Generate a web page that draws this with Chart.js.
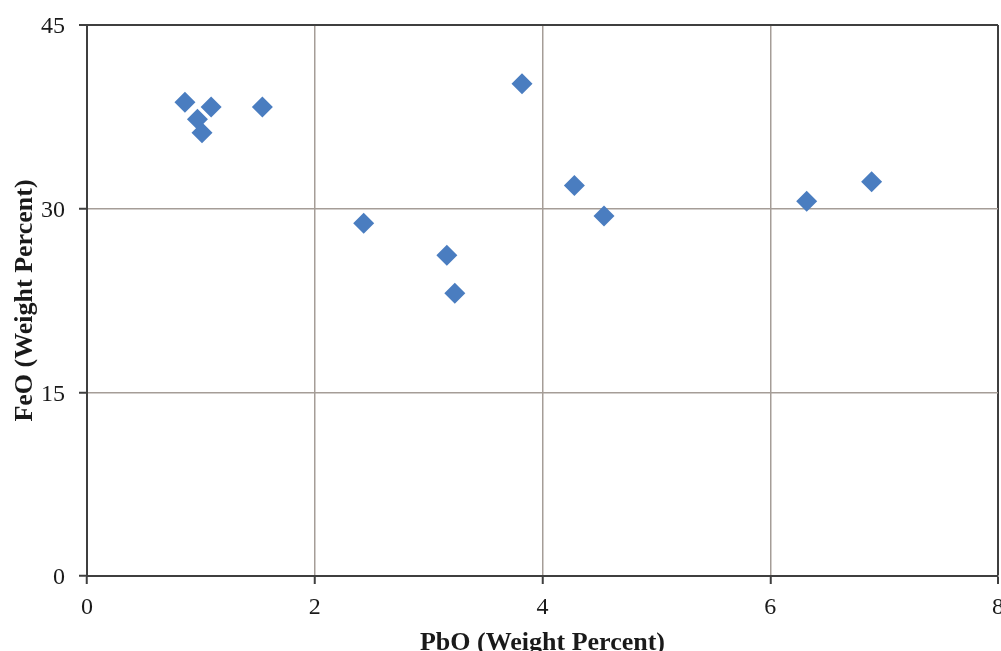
<!DOCTYPE html>
<html>
<head>
<meta charset="utf-8">
<script src="https://cdn.jsdelivr.net/npm/chart.js@4/dist/chart.umd.min.js"></script>
<style>
  html, body { margin: 0; padding: 0; background: #fff; }
  #wrap { width: 1001px; height: 651px; }
</style>
</head>
<body>
<div id="wrap"><canvas id="chart" width="1001" height="651"></canvas></div>
<script>
// values
let pbo = [0.86, 0.97, 1.01, 1.09, 1.54, 2.43, 3.16, 3.23, 3.82, 4.28, 4.54, 6.32, 6.89]
let feo = [38.7, 37.3, 36.2, 38.3, 38.3, 28.8, 26.2, 23.1, 40.2, 31.9, 29.4, 30.6, 32.2]

let xTicks = [0, 2, 4, 6, 8]
let yTicks = [0, 15, 30, 45]

let axisColor = "#3f3f3f"
let gridColor = "#a59d97"
let serif = "'Liberation Serif', 'Times New Roman', serif"

let points = pbo.map((x, i) => ({ x: x, y: feo[i] }))

let config = {
    type: "scatter",
    data: {
        datasets: [
            {
                label: "FeO vs PbO",
                data: points,
                pointStyle: "rectRot",
                pointRadius: 10.5,
                pointHoverRadius: 10.5,
                backgroundColor: "#4a7dc0",
                borderWidth: 0
            }
        ]
    },
    options: {
        responsive: false,
        animation: false,
        layout: { autoPadding: false, padding: { top: 25, right: 3, left: 0, bottom: 0 } },
        plugins: {
            legend: { display: false },
            tooltip: { enabled: false }
        },
        scales: {
            x: {
                type: "linear",
                min: 0,
                max: 8,
                afterBuildTicks: (s) => { s.ticks = xTicks.map(v => ({ value: v })) },
                afterFit: (s) => { s.height = 75; s.paddingLeft = 0; s.paddingRight = 0 },
                grid: {
                    color: (c) => c.tick && c.tick.value === 8 ? axisColor : gridColor,
                    lineWidth: (c) => c.tick && c.tick.value === 8 ? 2 : 1.5,
                    tickColor: axisColor,
                    tickLength: 8,
                    tickWidth: 2
                },
                border: { color: axisColor, width: 2 },
                ticks: {
                    color: "#1a1a1a",
                    padding: 9,
                    maxRotation: 0,
                    font: { family: serif, size: 24 }
                },
                title: {
                    display: true,
                    text: "PbO (Weight Percent)",
                    color: "#1a1a1a",
                    padding: { top: 0, bottom: -1 },
                    font: { family: serif, size: 26, weight: "bold", lineHeight: 0.7 }
                }
            },
            y: {
                type: "linear",
                min: 0,
                max: 45,
                afterBuildTicks: (s) => { s.ticks = yTicks.map(v => ({ value: v })) },
                afterFit: (s) => { s.width = 87; s.paddingTop = 0; s.paddingBottom = 0 },
                grid: {
                    color: (c) => c.tick && c.tick.value === 45 ? axisColor : gridColor,
                    lineWidth: (c) => c.tick && c.tick.value === 45 ? 2 : 1.5,
                    tickColor: axisColor,
                    tickLength: 8,
                    tickWidth: 2
                },
                border: { color: axisColor, width: 2 },
                ticks: {
                    color: "#1a1a1a",
                    padding: 14,
                    labelOffset: 2,
                    font: { family: serif, size: 24 }
                },
                title: {
                    display: true,
                    text: "FeO (Weight Percent)",
                    color: "#1a1a1a",
                    padding: { top: 16, bottom: 0 },
                    font: { family: serif, size: 26, weight: "bold", lineHeight: 0.7 }
                }
            }
        }
    }
}

const myChart = new Chart(document.querySelector("#chart"), config)
</script>
</body>
</html>
